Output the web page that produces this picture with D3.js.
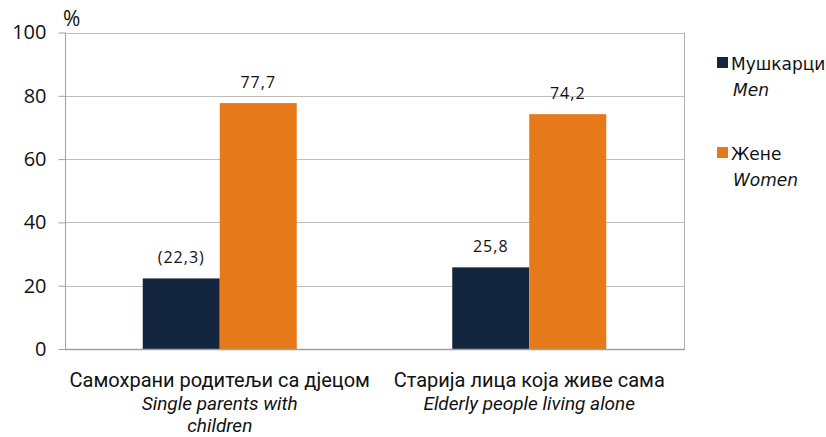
<!DOCTYPE html>
<html><head><meta charset="utf-8">
<script src="https://cdn.jsdelivr.net/npm/d3@7"></script>
<style>body{margin:0;background:#fff}svg{display:block}</style>
</head><body>
<script>
const categories = ["Самохрани родитељи са дјецом", "Старија лица која живе сама"];
const categoriesEn = [["Single parents with", "children"], ["Elderly people living alone"]];
const seriesNames = ["Мушкарци", "Жене"];
const seriesNamesEn = ["Men", "Women"];
const men = [22.3, 25.8];
const women = [77.7, 74.2];
const menLabels = ["(22,3)", "25,8"];
const womenLabels = ["77,7", "74,2"];
const yTicks = [0, 20, 40, 60, 80, 100];
const colors = ["#14263F", "#E67A1A"];

const W = 826, H = 437;
const svg = d3.select("body").append("svg").attr("width", W).attr("height", H);
const m = {left: 65, right: 142, top: 32.5, bottom: 88};
const x0 = d3.scaleBand().domain(categories).range([m.left, W - m.right]);
const x1 = d3.scaleBand().domain([0, 1]).range([0, 154]);
const y = d3.scaleLinear().domain([0, 100]).range([H - m.bottom, m.top]);

const g = svg.append("g");
g.selectAll("line.grid").data(yTicks).join("line")
  .attr("x1", m.left).attr("x2", W - m.right)
  .attr("y1", d => Math.round(y(d)) + 0.5).attr("y2", d => Math.round(y(d)) + 0.5)
  .attr("stroke", "#bdbdbd").attr("stroke-width", 1);
g.append("line").attr("x1", W - m.right + 0.5).attr("x2", W - m.right + 0.5)
  .attr("y1", y(100)).attr("y2", y(0)).attr("stroke", "#b0b0b0");

const vals = [men, women];
const labs = [menLabels, womenLabels];
categories.forEach((c, i) => {
  const cx = x0(c) + x0.bandwidth() / 2 - 77;
  [0, 1].forEach(s => {
    const v = vals[s][i];
    g.append("rect").attr("x", cx + x1(s)).attr("width", x1.bandwidth())
      .attr("y", y(v)).attr("height", y(0) - y(v)).attr("fill", colors[s]);
    g.append("text").attr("x", cx + x1(s) + x1.bandwidth() / 2).attr("y", y(v) - 15)
      .attr("text-anchor", "middle").attr("font-family", "Open Sans, sans-serif")
      .attr("font-size", 16).attr("letter-spacing", 1).attr("fill", "#111").text(labs[s][i]);
  });
  const tx = x0(c) + x0.bandwidth() / 2;
  g.append("text").attr("x", tx).attr("y", 387).attr("text-anchor", "middle")
    .attr("font-family", "Roboto, sans-serif")
    .attr("font-size", 20).attr("fill", "#111").text(c);
  categoriesEn[i].forEach((t, k) => {
    g.append("text").attr("x", tx).attr("y", 410 + k * 22).attr("text-anchor", "middle")
      .attr("font-family", "Roboto, sans-serif").attr("font-style", "italic")
      .attr("font-size", 19).attr("fill", "#111").text(t);
  });
});

const ya = svg.append("g").attr("transform", `translate(${m.left + 0.5},0)`)
  .call(d3.axisLeft(y).tickValues(yTicks).tickSize(7).tickPadding(12).tickFormat(d3.format("d")));
ya.select(".domain").attr("stroke", "#a0a0a0").attr("d", `M0,${y(100)}V${y(0)}`);
ya.selectAll(".tick line").attr("stroke", "#a0a0a0");
ya.selectAll(".tick text").attr("font-family", "Open Sans, sans-serif").attr("font-size", 20).attr("fill", "#111");
svg.append("line").attr("x1", m.left).attr("x2", W - m.right + 1)
  .attr("y1", Math.round(y(0)) + 0.5).attr("y2", Math.round(y(0)) + 0.5).attr("stroke", "#a0a0a0").attr("stroke-width", 1.5);
svg.append("text").attr("x", 63).attr("y", 26).attr("font-family", "Open Sans, sans-serif")
  .attr("font-size", 21).attr("fill", "#111").text("%");

const lg = svg.append("g");
[0, 1].forEach(s => {
  const yy = 57 + s * 90;
  lg.append("rect").attr("x", 717).attr("y", yy).attr("width", 11).attr("height", 11).attr("fill", colors[s]);
  lg.append("text").attr("x", 731).attr("y", yy + 13).attr("font-family", "DejaVu Sans, Verdana, sans-serif")
    .attr("font-size", 17).attr("fill", "#111").text(seriesNames[s]);
  lg.append("text").attr("x", 733).attr("y", yy + 39).attr("font-family", "DejaVu Sans, Verdana, sans-serif")
    .attr("font-style", "italic").attr("font-size", 17).attr("fill", "#111").text(seriesNamesEn[s]);
});
</script>
</body></html>
